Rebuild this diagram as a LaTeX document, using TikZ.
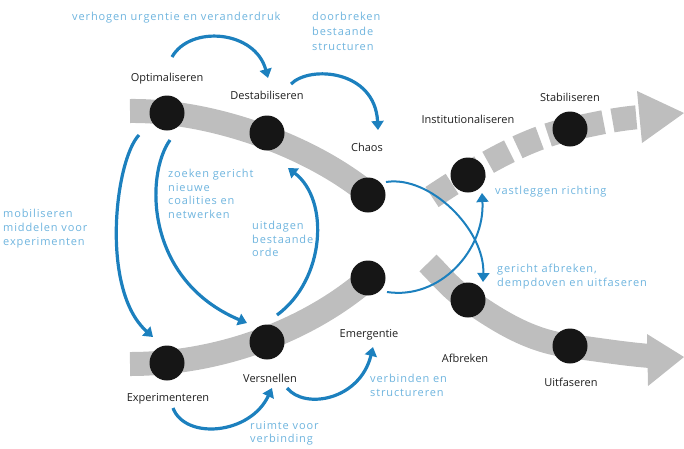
\documentclass[tikz,border=0pt]{standalone}
\usepackage{fontspec}
\setmainfont{Open Sans}
\newfontfamily\bluefont[LetterSpace=8]{Open Sans}
\usetikzlibrary{arrows.meta}
\definecolor{band}{RGB}{190,190,190}
\definecolor{arrowblue}{RGB}{28,128,190}
\definecolor{textblue}{RGB}{110,180,222}
\definecolor{dotc}{RGB}{22,22,22}
\begin{document}
\begin{tikzpicture}[x=1pt,y=-1pt,
  bandline/.style={line width=24pt,draw=band},
  dot/.style={circle,fill=dotc,minimum size=35pt,inner sep=0pt},
  lbl/.style={font=\fontsize{11}{13}\selectfont,text=black!88,inner sep=0pt},
  bl/.style={font=\bluefont\fontsize{11}{13.5}\selectfont,text=textblue,align=left,anchor=north west,inner sep=0pt},
  flow/.style={draw=arrowblue,line width=3.2pt,-{Triangle[length=9pt,width=12pt]}}
]
\useasboundingbox (0,0) rectangle (684,448);
% grey bands
\draw[bandline] (130,111) .. controls (210,110) and (310,145) .. (370,195);
\draw[bandline] (428,263) .. controls (442,277) and (452,290) .. (468,300) .. controls (500,322) and (530,341) .. (570,346) .. controls (600,350) and (625,354) .. (650,356);
\fill[band] (647,334) -- (684,357) -- (648,386) -- cycle;
\draw[bandline] (130,364) .. controls (220,364) and (310,330) .. (370,277);
\draw[bandline,dash pattern=on 24pt off 9pt] (432,197) .. controls (470,172) and (520,140) .. (570,129) .. controls (595,124) and (615,119) .. (640,117);
\fill[band] (637,91) -- (684,113) -- (642,143) -- cycle;
% dots
\node[dot] (opt) at (167,113) {};
\node[dot] (des) at (267,133) {};
\node[dot] (cha) at (368,195) {};
\node[dot] (afb) at (468,300) {};
\node[dot] (uit) at (570,346) {};
\node[dot] (exp) at (167,363) {};
\node[dot] (ver) at (267,342) {};
\node[dot] (eme) at (368,278) {};
\node[dot] (ins) at (468,175) {};
\node[dot] (sta) at (570,129) {};
% black labels
\node[lbl] (lopt) at (167,79) {Optimaliseren};
\node[lbl] (ldes) at (267,95) {Destabiliseren};
\node[lbl] (lcha) at (367,147) {Chaos};
\node[lbl] (lins) at (468,119) {Institutionaliseren};
\node[lbl] (lsta) at (570,97) {Stabiliseren};
\node[lbl] (lexp) at (168,399) {Experimenteren};
\node[lbl] (lver) at (270,378) {Versnellen};
\node[lbl] (leme) at (369,335) {Emergentie};
\node[lbl] (lafb) at (465,358) {Afbreken};
\node[lbl] (luit) at (571,382) {Uitfaseren};
% blue labels
\node[bl] (t1) at (72,12) {verhogen urgentie en veranderdruk};
\node[bl,font=\bluefont\fontsize{11}{15}\selectfont] (t2) at (312,12) {doorbreken\\bestaande\\structuren};
\node[bl] (t3) at (168,169) {zoeken gericht\\nieuwe\\coalities en\\netwerken};
\node[bl] (t4) at (252,221) {uitdagen\\bestaande\\orde};
\node[bl,font=\bluefont\fontsize{11}{14}\selectfont] (t5) at (3,209) {mobiliseren\\middelen voor\\experimenten};
\node[bl] (t6) at (250,421) {ruimte voor\\verbinding};
\node[bl] (t7) at (370,374) {verbinden en\\structureren};
\node[bl] (t8) at (495,186) {vastleggen richting};
\node[bl] (t9) at (497,264) {gericht afbreken,\\dempdoven en uitfaseren};
% blue arrows
\coordinate (a1s) at (172,57);  \coordinate (a1e) at (268,78);
\coordinate (a2s) at (291,84);  \coordinate (a2e) at (378,130);
\coordinate (a3s) at (139,135); \coordinate (a3e) at (153,337);
\coordinate (a4s) at (170,140); \coordinate (a4e) at (247,323);
\coordinate (a5s) at (277,315); \coordinate (a5e) at (288,168);
\coordinate (a6s) at (173,408); \coordinate (a6e) at (272,388);
\coordinate (a7s) at (287,388); \coordinate (a7e) at (373,347);
\coordinate (a8s) at (386,182); \coordinate (a8e) at (483,282);
\coordinate (a9s) at (387,292); \coordinate (a9e) at (482,193);
\draw[flow] (a1s) .. controls (190,25) and (255,30) .. (a1e);
\draw[flow] (a2s) .. controls (310,65) and (375,70) .. (a2e);
\draw[flow] (a3s) .. controls (115,160) and (100,290) .. (a3e);
\draw[flow] (a4s) .. controls (145,175) and (145,280) .. (a4e);
\draw[flow] (a5s) .. controls (325,280) and (330,200) .. (a5e);
\draw[flow] (a6s) .. controls (185,440) and (250,435) .. (a6e);
\draw[flow] (a7s) .. controls (305,410) and (360,400) .. (a7e);
\draw[flow,line width=2pt] (a8s) .. controls (430,175) and (485,230) .. (a8e);
\draw[flow,line width=2pt] (a9s) .. controls (440,300) and (485,250) .. (a9e);
\end{tikzpicture}
\end{document}
